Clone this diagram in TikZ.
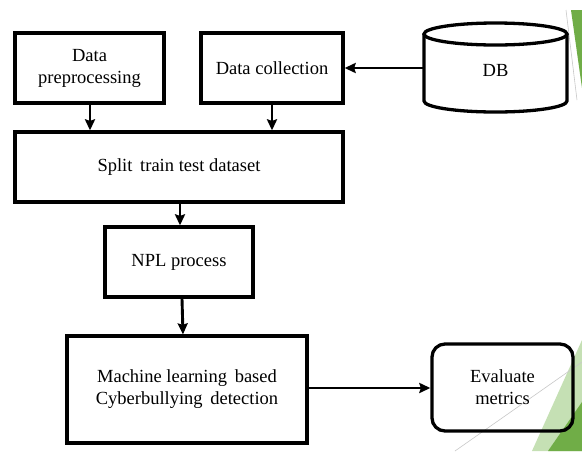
\documentclass[tikz,border=0pt]{standalone}
\usepackage{fontspec}
\setmainfont{Liberation Serif}
\usetikzlibrary{arrows.meta}
\begin{document}
\begin{tikzpicture}[x=1pt,y=-1pt,
  box/.style={draw, line width=3.3pt, align=center, inner sep=0pt,
    font=\fontsize{18.5}{22}\selectfont},
  conn/.style={line width=2.9pt, -{Stealth[length=11pt,width=10pt,inset=1.5pt]}},
  darkgreen/.style={fill={rgb,255:red,112;green,173;blue,71}, draw=none},
  lightgreen/.style={fill={rgb,255:red,197;green,224;blue,180}, draw=none},
  greyline/.style={draw={rgb,255:red,200;green,200;blue,200}, line width=0.6pt}]
\useasboundingbox[fill=white] (0,0) rectangle (582,451);
% slide decoration
\fill[lightgreen] (582,340) -- (582,451) -- (532,451) -- cycle;
\fill[darkgreen] (582,402) -- (582,451) -- (548,451) -- cycle;
\draw[greyline] (455,451) -- (582,362);
\fill[darkgreen] (571,10) -- (582,10) -- (582,88) -- cycle;
\draw[greyline] (566,10) -- (577,100);
% nodes
\node[box, minimum width=149pt, minimum height=70pt] (prep) at (89.5,68) {Data\\preprocessing};
\node[box, minimum width=142pt, minimum height=70pt] (coll) at (272,68) {Data collection};
\node[box, minimum width=328pt, minimum height=70pt] (split) at (179,167) {Split\, train test dataset};
\node[box, minimum width=148pt, minimum height=70pt] (npl) at (179,262) {NPL process};
\node[box, minimum width=240pt, minimum height=107pt] (ml) at (187,389.5) {Machine learning\, based\\Cyberbullying\, detection};
\node[box, rounded corners=13pt, minimum width=141pt, minimum height=87pt] (eval) at (502.5,387.5) {Evaluate\\metrics};
% database cylinder
\node[inner sep=0pt, minimum width=143pt, minimum height=89pt, font=\fontsize{18.5}{22}\selectfont] (db) at (495.5,70) {DB};
\draw[line width=3.3pt] (424,34) -- (424,101) arc[start angle=180, end angle=360, x radius=71.5, y radius=-11] -- (567,34);
\draw[line width=3.3pt] (495.5,34) ellipse[x radius=71.5, y radius=11];
% connectors
\draw[conn] (prep.south -| 90,0) -- (split.north -| 90,0);
\draw[conn] (coll) -- (split.north -| coll);
\draw[conn] (split.south -| 180,0) -- (npl.north -| 180,0);
\draw[conn] (npl.south -| 182,0) -- (ml.north -| 183,0);
\draw[conn] (ml.east |- 0,388) -- (eval.west |- 0,388);
\draw[conn] (db.west |- 0,68) -- (coll.east |- 0,68);
\end{tikzpicture}
\end{document}
